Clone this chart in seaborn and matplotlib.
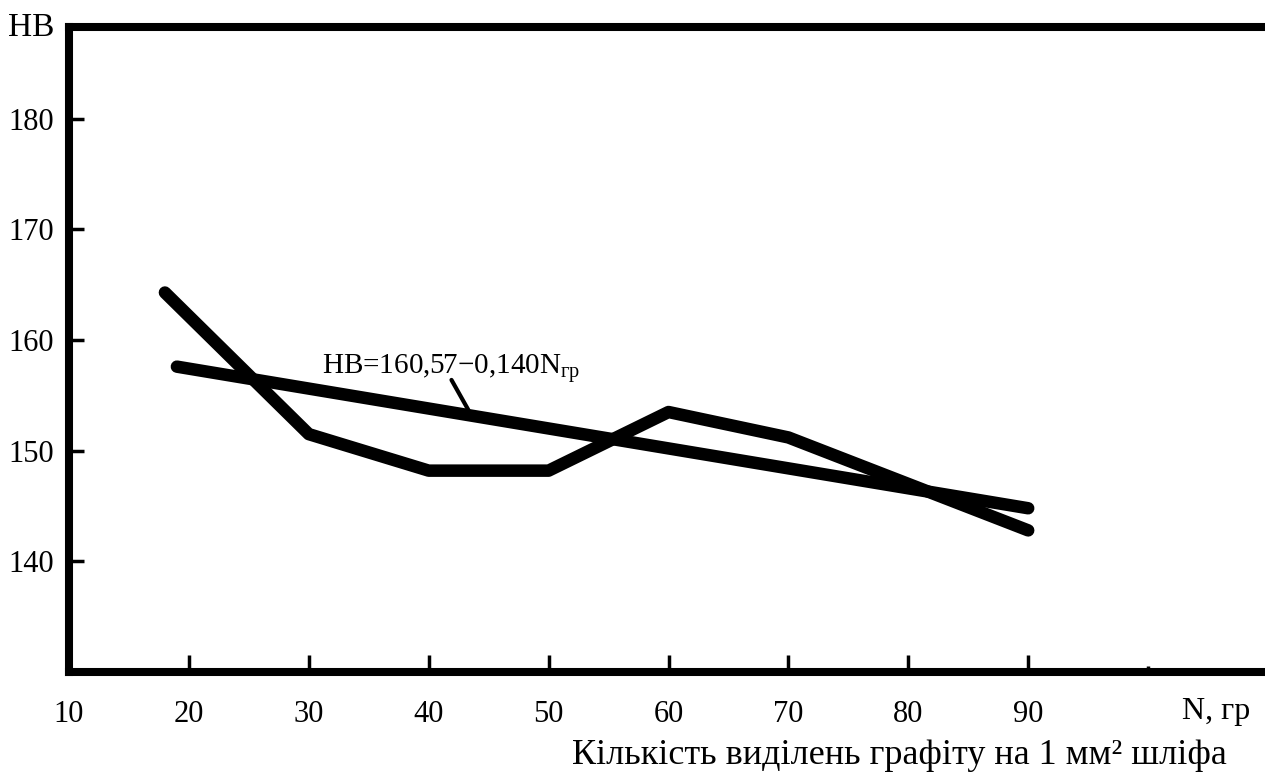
import matplotlib
matplotlib.use("Agg")
import matplotlib.pyplot as plt
import seaborn as sns
import pandas as pd

# Measured hardness against graphite inclusion count
n_values = [18, 30, 40, 50, 60, 70, 90]
hb_values = [164.3, 151.5, 148.2, 148.2, 153.5, 151.2, 142.8]

# Fitted trend line end points
fit_n = [19, 90]
fit_hb = [157.6, 144.8]

x_ticks = [10, 20, 30, 40, 50, 60, 70, 80, 90]
y_ticks = [140, 150, 160, 170, 180]

sns.set_style("white")
plt.rcParams["font.family"] = ["Liberation Serif", "DejaVu Serif"]
plt.rcParams["mathtext.fontset"] = "custom"
plt.rcParams["mathtext.rm"] = "Liberation Serif"
plt.rcParams["mathtext.it"] = "Liberation Serif"
plt.rcParams["text.color"] = "black"

W, H = 1265, 778
fig = plt.figure(figsize=(W / 100, H / 100), dpi=100)
ax = fig.add_axes([69 / W, 1 - 672 / H, 1 - 69 / W, (672 - 27) / H])

measured = pd.DataFrame({"N": n_values, "HB": hb_values})
fitted = pd.DataFrame({"N": fit_n, "HB": fit_hb})

line_kw = dict(color="black", linewidth=9, solid_capstyle="round",
               solid_joinstyle="round", legend=False)
sns.lineplot(data=measured, x="N", y="HB", sort=False, ax=ax, **line_kw)
sns.lineplot(data=fitted, x="N", y="HB", sort=False, ax=ax, **line_kw)

ax.set_xlim(10, 10 + (W - 69) / 11.99)
ax.set_ylim(130, 188.3)

ax.set_xticks(x_ticks)
ax.set_xticklabels([str(v) for v in x_ticks])
ax.set_xticks([100], minor=True)
ax.set_yticks(y_ticks)
ax.set_yticklabels([str(v) for v in y_ticks])

ax.tick_params(axis="x", which="major", bottom=True, direction="in",
               length=12, width=2.5, pad=20, labelsize=22, colors="black")
ax.tick_params(axis="x", which="minor", bottom=True, direction="in",
               length=4, width=2.5, colors="black")
ax.tick_params(axis="y", left=True, direction="in", length=11, width=2.5,
               pad=11, labelsize=22, colors="black")

for side in ("left", "bottom", "top"):
    ax.spines[side].set_visible(True)
    ax.spines[side].set_linewidth(5.8)
    ax.spines[side].set_color("black")
ax.spines["right"].set_visible(False)
ax.set_xlabel("")
ax.set_ylabel("")

# Regression equation with leader line
ax.text(31.1, 157.4, r"HB=160,57$-$0,140N$_{\mathrm{гр}}$", fontsize=21,
        ha="left", va="center", color="black")
ax.plot([41.9, 43.3], [156.4, 153.7], color="black", linewidth=3)

fig.text(31 / W, 1 - 28 / H, "HB", fontsize=24, ha="center", va="center")
fig.text(1216 / W, 1 - 712 / H, "N, гр", fontsize=23, ha="center", va="center")
fig.text(899 / W, 1 - 755 / H, "Кількість виділень графіту на 1 мм² шліфа",
         fontsize=26, ha="center", va="center")

fig.savefig("out.png", dpi=100)
